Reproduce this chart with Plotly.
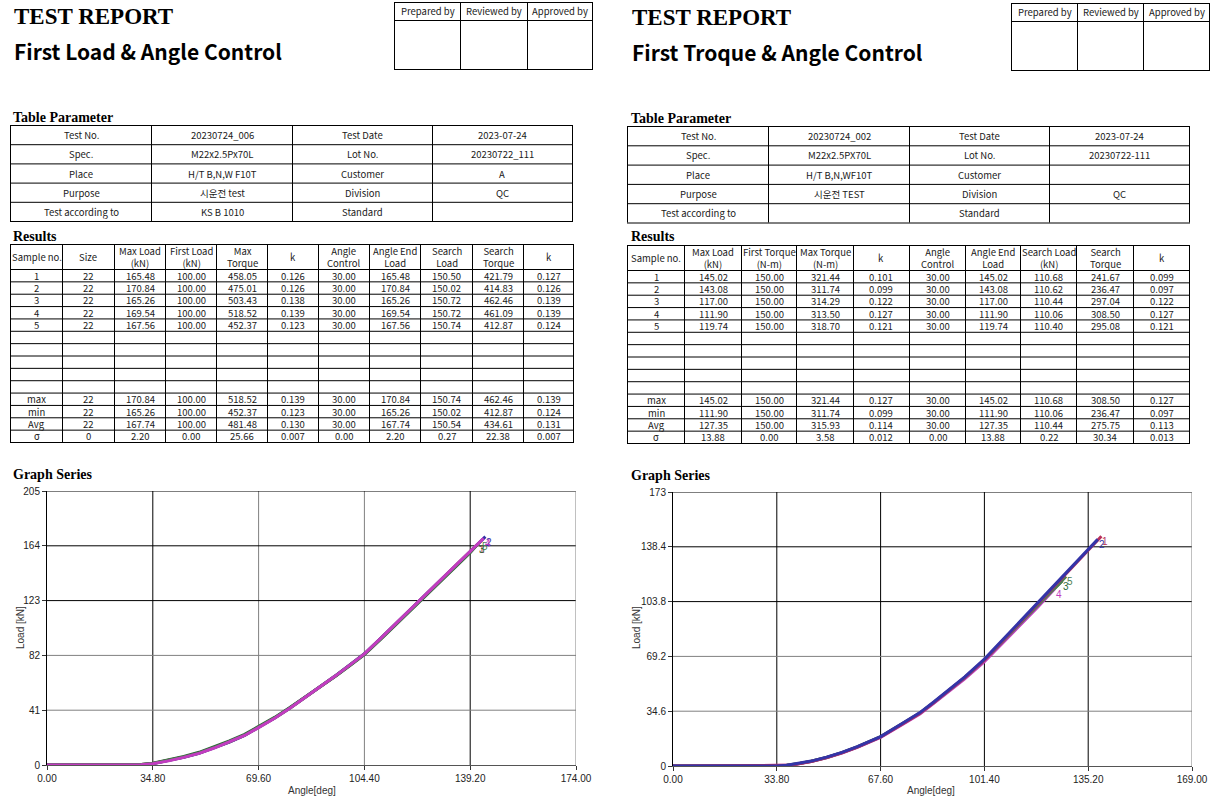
import plotly.graph_objects as go

W, H = 1219, 808          # browser window = figure size (body margin removed by post_script)

# ---------------- data ----------------
report_titles = ["First Load & Angle Control", "First Troque & Angle Control"]
sign_labels = ["Prepared by", "Reviewed by", "Approved by"]

param_left = [
    ["Test No.", "20230724_006", "Test Date", "2023-07-24"],
    ["Spec.", "M22x2.5Px70L", "Lot No.", "20230722_111"],
    ["Place", "H/T B,N,W F10T", "Customer", "A"],
    ["Purpose", "시운전 test", "Division", "QC"],
    ["Test according to", "KS B 1010", "Standard", ""],
]
param_right = [
    ["Test No.", "20230724_002", "Test Date", "2023-07-24"],
    ["Spec.", "M22x2.5PX70L", "Lot No.", "20230722-111"],
    ["Place", "H/T B,N,WF10T", "Customer", ""],
    ["Purpose", "시운전 TEST", "Division", "QC"],
    ["Test according to", "", "Standard", ""],
]

row_labels = ["1", "2", "3", "4", "5", "", "", "", "", "", "max", "min", "Avg", "σ"]

L_headers = ["Sample no.", "Size", "Max Load<br>(kN)", "First Load<br>(kN)", "Max<br>Torque", "k",
             "Angle<br>Control", "Angle End<br>Load", "Search<br>Load", "Search<br>Torque", "k"]
L_size = ["22", "22", "22", "22", "22", "22", "22", "22", "0"]
L_max_load = ["165.48", "170.84", "165.26", "169.54", "167.56", "170.84", "165.26", "167.74", "2.20"]
L_first_load = ["100.00", "100.00", "100.00", "100.00", "100.00", "100.00", "100.00", "100.00", "0.00"]
L_max_torque = ["458.05", "475.01", "503.43", "518.52", "452.37", "518.52", "452.37", "481.48", "25.66"]
L_k1 = ["0.126", "0.126", "0.138", "0.139", "0.123", "0.139", "0.123", "0.130", "0.007"]
L_angle_ctrl = ["30.00", "30.00", "30.00", "30.00", "30.00", "30.00", "30.00", "30.00", "0.00"]
L_angle_end = ["165.48", "170.84", "165.26", "169.54", "167.56", "170.84", "165.26", "167.74", "2.20"]
L_search_load = ["150.50", "150.02", "150.72", "150.72", "150.74", "150.74", "150.02", "150.54", "0.27"]
L_search_torque = ["421.79", "414.83", "462.46", "461.09", "412.87", "462.46", "412.87", "434.61", "22.38"]
L_k2 = ["0.127", "0.126", "0.139", "0.139", "0.124", "0.139", "0.124", "0.131", "0.007"]

R_headers = ["Sample no.", "Max Load<br>(kN)", "First Torque<br>(N-m)", "Max Torque<br>(N-m)", "k",
             "Angle<br>Control", "Angle End<br>Load", "Search Load<br>(kN)", "Search<br>Torque", "k"]
R_max_load = ["145.02", "143.08", "117.00", "111.90", "119.74", "145.02", "111.90", "127.35", "13.88"]
R_first_torque = ["150.00", "150.00", "150.00", "150.00", "150.00", "150.00", "150.00", "150.00", "0.00"]
R_max_torque = ["321.44", "311.74", "314.29", "313.50", "318.70", "321.44", "311.74", "315.93", "3.58"]
R_k1 = ["0.101", "0.099", "0.122", "0.127", "0.121", "0.127", "0.099", "0.114", "0.012"]
R_angle_ctrl = ["30.00", "30.00", "30.00", "30.00", "30.00", "30.00", "30.00", "30.00", "0.00"]
R_angle_end = ["145.02", "143.08", "117.00", "111.90", "119.74", "145.02", "111.90", "127.35", "13.88"]
R_search_load = ["110.68", "110.62", "110.44", "110.06", "110.40", "110.68", "110.06", "110.44", "0.22"]
R_search_torque = ["241.67", "236.47", "297.04", "308.50", "295.08", "308.50", "236.47", "275.75", "30.34"]
R_k2 = ["0.099", "0.097", "0.122", "0.127", "0.121", "0.127", "0.097", "0.113", "0.013"]

# graph (left): angle [deg] vs load [kN], samples 1..5
L_ang_1 = [0, 10, 20, 28, 31, 34.8, 40, 45, 50, 55, 60, 65, 69.6, 75, 80, 85, 90, 95, 100, 104.4, 110, 115, 120, 125, 130, 135, 139.2, 141.8]
L_load_1 = [0, 0, 0, 0, 0.3, 1.2, 3.4, 6.0, 9.0, 13.0, 17.4, 22.4, 28.3, 35.4, 42.8, 50.6, 58.6, 66.8, 75.4, 83.0, 95.2, 106.4, 117.4, 128.4, 139.6, 150.6, 159.6, 165.48]
L_ang_2 = [0, 10, 20, 28, 31, 34.8, 40, 45, 50, 55, 60, 65, 69.6, 75, 80, 85, 90, 95, 100, 104.4, 110, 115, 120, 125, 130, 135, 139.2, 144.2]
L_load_2 = [0, 0, 0, 0, 0.2, 1.0, 3.2, 5.8, 8.7, 12.7, 17.2, 22.2, 28.2, 35.3, 42.8, 50.8, 58.8, 67.0, 75.6, 83.2, 95.4, 106.6, 117.6, 128.6, 139.5, 150.2, 159.4, 170.84]
L_ang_3 = [0, 10, 20, 28, 31, 34.8, 40, 45, 50, 55, 60, 65, 69.6, 75, 80, 85, 90, 95, 100, 104.4, 110, 115, 120, 125, 130, 135, 139.2, 141.7]
L_load_3 = [0, 0, 0, 0, 0.4, 1.4, 3.7, 6.4, 9.5, 13.5, 18.0, 23.0, 28.8, 35.8, 43.2, 50.8, 58.6, 66.6, 75.0, 82.6, 94.6, 105.6, 116.6, 127.6, 138.6, 149.6, 158.8, 165.26]
L_ang_4 = [0, 10, 20, 28, 31, 34.8, 40, 45, 50, 55, 60, 65, 69.6, 75, 80, 85, 90, 95, 100, 104.4, 110, 115, 120, 125, 130, 135, 139.2, 143.6]
L_load_4 = [0, 0, 0, 0, 0.2, 1.0, 3.1, 5.7, 8.7, 12.7, 17.1, 22.1, 28.0, 35.1, 42.6, 50.5, 58.6, 66.9, 75.5, 83.1, 95.3, 106.5, 117.5, 128.6, 139.7, 150.7, 159.8, 169.54]
L_ang_5 = [0, 10, 20, 28, 31, 34.8, 40, 45, 50, 55, 60, 65, 69.6, 75, 80, 85, 90, 95, 100, 104.4, 110, 115, 120, 125, 130, 135, 139.2, 142.8]
L_load_5 = [0, 0, 0, 0, 0.3, 1.1, 3.3, 5.9, 8.9, 12.9, 17.3, 22.3, 28.2, 35.3, 42.7, 50.6, 58.7, 66.9, 75.4, 83.0, 95.1, 106.3, 117.3, 128.3, 139.3, 150.3, 159.4, 167.56]

# graph (right)
R_ang_1 = [0, 10, 20, 30, 33.8, 37, 40, 45, 50, 55, 60, 67.6, 75, 80.4, 85, 90, 95, 101.4, 105, 110, 115, 118.9, 125, 130, 135.2, 139.5]
R_load_1 = [0, 0, 0, 0, 0, 0.4, 1.1, 2.9, 5.3, 8.3, 11.9, 18.3, 26.9, 33.3, 40.2, 47.9, 55.9, 67.0, 74.3, 84.5, 94.8, 102.8, 115.2, 125.5, 136.2, 145.02]
R_ang_2 = [0, 10, 20, 30, 33.8, 37, 40, 45, 50, 55, 60, 67.6, 75, 80.4, 85, 90, 95, 101.4, 105, 110, 115, 118.9, 125, 130, 135.2, 138.3]
R_load_2 = [0, 0, 0, 0, 0, 0.5, 1.3, 3.1, 5.6, 8.6, 12.2, 18.6, 27.3, 33.7, 40.6, 48.3, 56.3, 67.5, 74.9, 85.2, 95.6, 103.7, 116.3, 126.6, 136.8, 143.08]
R_ang_3 = [0, 10, 20, 30, 33.8, 37, 40, 45, 50, 55, 60, 67.6, 75, 80.4, 85, 90, 95, 101.4, 105, 110, 115, 118.9, 125, 126.8]
R_load_3 = [0, 0, 0, 0, 0, 0.5, 1.2, 3.0, 5.4, 8.4, 12.0, 18.4, 27.0, 33.3, 40.1, 47.7, 55.6, 66.6, 73.6, 83.6, 93.6, 101.5, 113.4, 117.0]
R_ang_4 = [0, 10, 20, 30, 33.8, 37, 40, 45, 50, 55, 60, 67.6, 75, 80.4, 85, 90, 95, 101.4, 105, 110, 115, 118.9, 124.3]
R_load_4 = [0, 0, 0, 0, 0, 0.4, 1.1, 2.9, 5.2, 8.2, 11.8, 18.1, 26.6, 32.9, 39.7, 47.2, 55.0, 65.9, 72.9, 82.8, 92.8, 100.6, 111.9]
R_ang_5 = [0, 10, 20, 30, 33.8, 37, 40, 45, 50, 55, 60, 67.6, 75, 80.4, 85, 90, 95, 101.4, 105, 110, 115, 118.9, 125, 128.0]
R_load_5 = [0, 0, 0, 0, 0, 0.5, 1.2, 3.0, 5.4, 8.4, 12.1, 18.5, 27.1, 33.5, 40.3, 47.9, 55.8, 66.9, 74.0, 84.0, 94.0, 101.6, 113.6, 119.74]

L_xticks = [0, 34.8, 69.6, 104.4, 139.2, 174]
L_xticktext = ["0.00", "34.80", "69.60", "104.40", "139.20", "174.00"]
L_yticks = [0, 41, 82, 123, 164, 205]
L_yticktext = ["0", "41", "82", "123", "164", "205"]
R_xticks = [0, 33.8, 67.6, 101.4, 135.2, 169]
R_xticktext = ["0.00", "33.80", "67.60", "101.40", "135.20", "169.00"]
R_yticks = [0, 34.6, 69.2, 103.8, 138.4, 173]
R_yticktext = ["0", "34.6", "69.2", "103.8", "138.4", "173"]

# ---------------- style ----------------
series_colors = {1: "#b8305c", 2: "#3434a8", 3: "#2f6b3a", 4: "#c23cc0", 5: "#4f7f52"}
TBL_FONT = "Noto Sans CJK KR"
SERIF = "Liberation Serif"
TXT = "#1a1a1a"
GRID_DARK = "#000000"
GRID_LIGHT = "#808080"

shapes = []
annotations = []


def px(x):
    # page pixel -> paper fraction
    return x / W


def py(y):
    return 1 - y / H


def line(x0, y0, x1, y1, color="black", width=1):
    shapes.append(dict(type="line", xref="paper", yref="paper",
                       x0=px(x0), y0=py(y0), x1=px(x1), y1=py(y1),
                       line=dict(color=color, width=width), layer="above"))


def text(x, y, s, size=9, family=TBL_FONT, color=TXT, xanchor="center", yanchor="middle", bold=False):
    annotations.append(dict(xref="paper", yref="paper", x=px(x), y=py(y),
                            text=("<b>%s</b>" % s) if bold else s, showarrow=False,
                            xanchor=xanchor, yanchor=yanchor, align="center",
                            font=dict(size=size, family=family, color=color)))


def grid_table(col_edges, row_edges, cells, size=9):
    for x in col_edges:
        line(x + 0.5, row_edges[0], x + 0.5, row_edges[-1])
    for y in row_edges:
        line(col_edges[0], y + 0.5, col_edges[-1] + 1, y + 0.5)
    for r, row in enumerate(cells):
        yc = (row_edges[r] + row_edges[r + 1]) / 2 + 0.5
        for c, s in enumerate(row):
            if s == "":
                continue
            xc = (col_edges[c] + col_edges[c + 1]) / 2 + 0.5
            text(xc, yc, s, size=size)


def results_rows(headers, columns):
    rows = [headers]
    for i, lab in enumerate(row_labels):
        row = [lab]
        for col in columns:
            if i < 5:
                row.append(col[i])
            elif i < 10:
                row.append("")
            else:
                row.append(col[i - 5])
        rows.append(row)
    return rows


def report(x0, dy, title, sign_cols, sign_rows, p_cols, p_rows, p_cells, r_cols, r_rows, r_cells):
    text(x0 - 2, 16 + dy, "TEST REPORT", size=23, family=SERIF, color="#000", xanchor="left", bold=True)
    text(x0 - 2, 51 + dy, title, size=21, family=TBL_FONT, color="#000", xanchor="left", bold=True)
    grid_table(sign_cols, sign_rows, [sign_labels, ["", "", ""]], size=9.5)
    text(x0 - 3, 117 + dy, "Table Parameter", size=14, family=SERIF, color="#000", xanchor="left", bold=True)
    grid_table(p_cols, p_rows, p_cells, size=9.5)
    text(x0 - 3, 236 + dy, "Results", size=14, family=SERIF, color="#000", xanchor="left", bold=True)
    grid_table(r_cols, r_rows, r_cells, size=9.5)
    text(x0 - 3, 474 + dy, "Graph Series", size=14, family=SERIF, color="#000", xanchor="left", bold=True)


def rows_from(top, header_h, n, bottom):
    edges = [top, top + header_h]
    step = (bottom - top - header_h) / n
    for i in range(1, n + 1):
        edges.append(top + header_h + step * i)
    return edges


# left report
report(14, 0, report_titles[0],
       [394, 460, 527, 592], [2, 20, 69],
       [10, 151, 292, 432, 572], [125, 144.2, 163.4, 182.6, 201.8, 221], param_left,
       [10, 62, 114, 165, 216, 267, 318, 369, 420, 472, 523, 573], rows_from(244, 25, 14, 442),
       results_rows(L_headers, [L_size, L_max_load, L_first_load, L_max_torque, L_k1, L_angle_ctrl,
                                L_angle_end, L_search_load, L_search_torque, L_k2]))
# right report
report(632, 1, report_titles[1],
       [1011, 1077, 1143, 1209], [3, 21, 70],
       [627, 768, 909, 1049, 1189], [126, 145.3, 164.6, 183.9, 203.2, 222.5], param_right,
       [627, 684, 741, 796, 853, 909, 965, 1020, 1076, 1133, 1189], rows_from(245, 25, 14, 443),
       results_rows(R_headers, [R_max_load, R_first_torque, R_max_torque, R_k1, R_angle_ctrl,
                                R_angle_end, R_search_load, R_search_torque, R_k2]))

fig = go.Figure()

left_series = {1: (L_ang_1, L_load_1), 2: (L_ang_2, L_load_2), 3: (L_ang_3, L_load_3),
               4: (L_ang_4, L_load_4), 5: (L_ang_5, L_load_5)}
right_series = {1: (R_ang_1, R_load_1), 2: (R_ang_2, R_load_2), 3: (R_ang_3, R_load_3),
                4: (R_ang_4, R_load_4), 5: (R_ang_5, R_load_5)}

for order, label_order, series, xa, ya in [([1, 2, 3, 5, 4], [1, 5, 3, 2, 4], left_series, "x", "y"),
                                           ([3, 4, 5, 1, 2], [4, 3, 5, 2, 1], right_series, "x2", "y2")]:
    for k in order:
        xs, ys = series[k]
        fig.add_trace(go.Scatter(x=xs, y=ys, mode="lines", xaxis=xa, yaxis=ya,
                                 line=dict(color=series_colors[k], width=3),
                                 showlegend=False, hoverinfo="skip"))
    for k in label_order:
        xs, ys = series[k]
        annotations.append(dict(xref=xa, yref=ya, x=xs[-1], y=ys[-1], text=str(k), showarrow=False,
                                xanchor="left", yanchor="top", xshift=-1, yshift=2,
                                font=dict(size=10, family="Liberation Sans", color=series_colors[k])))

# grid lines (per-line colours as in the reference)
grid_spec = [
    ("x", "y", L_xticks[1:-1], [GRID_DARK, GRID_LIGHT, GRID_LIGHT, GRID_DARK],
     L_yticks[1:-1], [GRID_LIGHT, GRID_LIGHT, GRID_DARK, GRID_DARK], L_xticks[-1], L_yticks[-1]),
    ("x2", "y2", R_xticks[1:-1], [GRID_DARK, GRID_DARK, GRID_DARK, GRID_DARK],
     R_yticks[1:-1], [GRID_LIGHT, GRID_LIGHT, GRID_DARK, GRID_DARK], R_xticks[-1], R_yticks[-1]),
]
for xa, ya, xv, xc, yv, yc, xmax, ymax in grid_spec:
    for v, c in zip(xv, xc):
        shapes.append(dict(type="line", xref=xa, yref=ya, x0=v, x1=v, y0=0, y1=ymax,
                           line=dict(color=c, width=1), layer="below"))
    for v, c in zip(yv, yc):
        shapes.append(dict(type="line", xref=xa, yref=ya, x0=0, x1=xmax, y0=v, y1=v,
                           line=dict(color=c, width=1), layer="below"))
    shapes.append(dict(type="line", xref=xa, yref=ya, x0=0, x1=xmax, y0=ymax, y1=ymax,
                       line=dict(color=GRID_DARK, width=1), layer="below"))
    shapes.append(dict(type="line", xref=xa, yref=ya, x0=xmax, x1=xmax, y0=0, y1=ymax,
                       line=dict(color=GRID_LIGHT, width=1), layer="below"))

# axis titles
for x, y, s, ang in [(20, 628, "Load [kN]", -90), (312, 790, "Angle[deg]", 0),
                     (636, 628, "Load [kN]", -90), (931, 790, "Angle[deg]", 0)]:
    annotations.append(dict(xref="paper", yref="paper", x=px(x), y=py(y), text=s, showarrow=False,
                            textangle=ang, xanchor="center", yanchor="middle",
                            font=dict(size=10, family="Liberation Sans", color="#333")))

tickfont = dict(size=10, family="Liberation Sans", color="#222")
ax_common = dict(showgrid=False, zeroline=False, showline=True, ticks="outside", ticklen=4,
                 tickcolor="#333", tickfont=tickfont, fixedrange=True, automargin=False)

fig.update_layout(
    width=W, height=H, margin=dict(l=0, r=0, t=0, b=0, autoexpand=False),
    paper_bgcolor="white", plot_bgcolor="white",
    xaxis=dict(domain=[px(47), px(576)], range=[0, 174], tickvals=L_xticks, ticktext=L_xticktext,
               anchor="y", linecolor="#555", **ax_common),
    yaxis=dict(domain=[py(765), py(491)], range=[0, 205], tickvals=L_yticks, ticktext=L_yticktext,
               anchor="x", linecolor="#000", **ax_common),
    xaxis2=dict(domain=[px(673), px(1192)], range=[0, 169], tickvals=R_xticks, ticktext=R_xticktext,
                anchor="y2", linecolor="#555", **ax_common),
    yaxis2=dict(domain=[py(766), py(492)], range=[0, 173], tickvals=R_yticks, ticktext=R_yticktext,
                anchor="x2", linecolor="#000", **ax_common),
    shapes=shapes, annotations=annotations,
)

fig.write_html("out.html", config={"displayModeBar": False},
               post_script="document.body.style.margin='0';document.body.style.overflow='hidden';")
